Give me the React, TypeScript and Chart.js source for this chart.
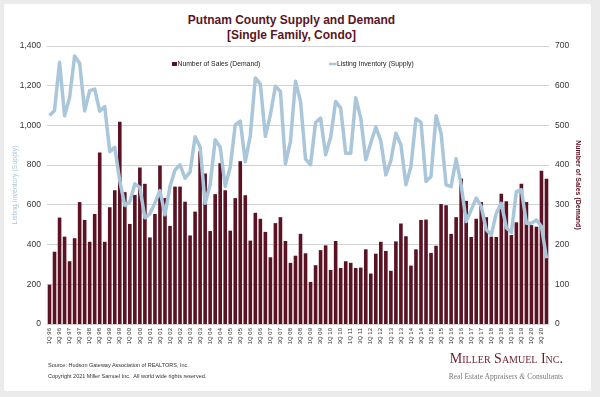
import React, { useEffect, useRef } from 'react';
import { Chart, registerables } from 'chart.js';

Chart.register(...registerables);

const YEARS = ['96', '97', '98', '99', '00', '01', '02', '03', '04', '05', '06', '07', '08', '09', '10', '11', '12', '13', '14', '15', '16', '17', '18', '19', '20'];
const QUARTERS = ['1Q', '2Q', '3Q', '4Q'];
const CATEGORIES = YEARS.flatMap((y) => QUARTERS.map((q) => `${q} ${y}`));

// Number of Sales (Demand) - right axis
const SALES = [
  99, 182, 268, 220, 158, 216, 307, 262, 207, 277,
  432, 207, 294, 337, 509, 332, 252, 325, 394, 353,
  218, 277, 399, 317, 247, 346, 346, 308, 223, 283,
  435, 379, 234, 327, 405, 337, 235, 317, 410, 324,
  210, 280, 265, 232, 168, 254, 269, 209, 154, 172,
  227, 178, 106, 148, 186, 198, 136, 209, 141, 158,
  154, 141, 142, 188, 127, 177, 207, 184, 134, 208,
  253, 221, 147, 188, 262, 263, 179, 197, 302, 299,
  227, 269, 366, 310, 219, 265, 307, 269, 220, 219,
  328, 309, 224, 256, 353, 307, 249, 245, 386, 366,
];

// Listing Inventory (Supply) - left axis
const INVENTORY = [
  1050, 1075, 1318, 1049, 1140, 1350, 1313, 1074, 1175, 1183,
  1072, 1095, 868, 890, 720, 597, 615, 706, 688, 535,
  555, 610, 672, 550, 692, 776, 802, 734, 766, 943,
  892, 608, 701, 928, 890, 693, 790, 1003, 1022, 818,
  948, 1239, 1208, 945, 1054, 1197, 1171, 806, 920, 1222,
  1121, 830, 802, 1015, 1037, 852, 940, 1121, 1087, 860,
  860, 1140, 1037, 827, 911, 992, 922, 751, 823, 961,
  903, 701, 793, 1034, 1015, 718, 743, 1049, 961, 701,
  692, 832, 700, 516, 575, 634, 592, 474, 449, 558,
  608, 485, 461, 667, 676, 508, 508, 524, 491, 331,
];

const SALES_LABEL = 'Number of Sales (Demand)';
const INVENTORY_LABEL = 'Listing Inventory (Supply)';

const MAROON = '#5b1223';
const BLUE = '#a9c6da';
const SANS = '"Liberation Sans", Arial, sans-serif';
const SERIF = '"Liberation Serif", "Times New Roman", serif';

const insideLegend = {
  id: 'insideLegend',
  afterDraw(chart: any) {
    const { ctx, chartArea } = chart;
    const y = chartArea.top + 18;
    ctx.save();
    ctx.font = `6.8px ${SANS}`;
    ctx.textBaseline = 'middle';
    // item 1
    const x1 = chartArea.left + 125;
    ctx.fillStyle = MAROON;
    ctx.fillRect(x1, y - 2, 5, 4);
    ctx.fillStyle = '#222';
    ctx.fillText(SALES_LABEL, x1 + 5.5, y + 0.5);
    // item 2
    const x2 = chartArea.left + 282;
    ctx.strokeStyle = BLUE;
    ctx.lineWidth = 2.5;
    ctx.beginPath();
    ctx.moveTo(x2, y);
    ctx.lineTo(x2 + 7.5, y);
    ctx.stroke();
    ctx.fillText(INVENTORY_LABEL, x2 + 8, y + 0.5);
    ctx.restore();
  },
};

export default function App() {
  const ref = useRef<HTMLCanvasElement | null>(null);

  useEffect(() => {
    if (!ref.current) return;
    const chart = new Chart(ref.current, {
      type: 'bar',
      data: {
        labels: CATEGORIES,
        datasets: [
          {
            type: 'line',
            label: INVENTORY_LABEL,
            data: INVENTORY,
            yAxisID: 'y',
            borderColor: BLUE,
            borderWidth: 3.5,
            pointRadius: 0,
            tension: 0,
            borderJoinStyle: 'round',
            order: 1,
          } as any,
          {
            type: 'bar',
            label: SALES_LABEL,
            data: SALES,
            yAxisID: 'y1',
            backgroundColor: MAROON,
            barPercentage: 0.72,
            categoryPercentage: 1,
            order: 2,
          } as any,
        ],
      },
      options: {
        responsive: false,
        animation: false,
        layout: { padding: { left: 10, right: 18, top: 46, bottom: 0 } },
        plugins: {
          legend: { display: false },
          tooltip: { enabled: false },
          title: { display: false },
        },
        scales: {
          x: {
            grid: { display: false, drawTicks: false },
            border: { display: false },
            ticks: {
              autoSkip: false,
              minRotation: 90,
              maxRotation: 90,
              padding: 4,
              color: '#333',
              font: { size: 6, family: SANS },
              callback: (_v: any, i: number) => (i % 2 === 0 ? CATEGORIES[i] : ''),
            },
            afterFit: (s: any) => {
              s.height = 73;
            },
          },
          y: {
            position: 'left',
            min: 0,
            max: 1400,
            grid: { color: '#d3d3d3', drawTicks: false, lineWidth: 1 },
            border: { display: false },
            ticks: { stepSize: 200, padding: 6, color: '#333', font: { size: 8.5, family: SANS } },
            title: {
              display: true,
              text: INVENTORY_LABEL,
              color: BLUE,
              font: { size: 7, family: SANS },
              padding: { top: 1, bottom: 0 },
            },
            afterFit: (s: any) => {
              s.width = 37;
            },
          },
          y1: {
            position: 'right',
            min: 0,
            max: 700,
            grid: { display: false, drawTicks: false },
            border: { display: false },
            ticks: { stepSize: 100, padding: 6, color: '#333', font: { size: 8.5, family: SANS } },
            title: {
              display: true,
              text: SALES_LABEL,
              color: MAROON,
              font: { size: 7, family: SANS, weight: 'bold' },
              padding: { top: 0, bottom: 0 },
            },
            afterFit: (s: any) => {
              s.width = 33;
            },
          },
        },
      } as any,
      plugins: [insideLegend],
    });
    return () => chart.destroy();
  }, []);

  return (
    <div style={{ position: 'absolute', left: 0, top: 0, width: 600, height: 397, background: '#ebebeb', overflow: 'hidden' }}>
      <div style={{ position: 'absolute', left: 4, top: 4, width: 587, height: 387, background: '#fff', borderRadius: 2 }} />
      <div
        style={{
          position: 'absolute',
          left: 0,
          top: 13,
          width: 583,
          textAlign: 'center',
          fontFamily: SANS,
          fontWeight: 'bold',
          fontSize: 12,
          lineHeight: '14.5px',
          color: '#5a1525',
        }}
      >
        <div>Putnam County Supply and Demand</div>
        <div>[Single Family, Condo]</div>
      </div>
      <canvas ref={ref} width={600} height={397} style={{ position: 'absolute', left: 0, top: 0, display: 'block' }} />
      <div style={{ position: 'absolute', left: 48, top: 362, fontFamily: SANS, fontSize: 5.5, lineHeight: '6px', color: '#333', whiteSpace: 'pre' }}>
        Source: Hudson Gateway Association of REALTORS, Inc.
      </div>
      <div style={{ position: 'absolute', left: 48, top: 373, fontFamily: SANS, fontSize: 5.5, lineHeight: '6px', color: '#333', whiteSpace: 'pre' }}>
        {'Copyright 2021 Miller Samuel Inc.  All world wide rights reserved.'}
      </div>
      <div
        style={{
          position: 'absolute',
          right: 37,
          top: 351,
          fontFamily: SERIF,
          fontVariant: 'small-caps',
          fontSize: 14,
          lineHeight: '16px',
          color: '#6b1f2e',
          whiteSpace: 'nowrap',
        }}
      >
        Miller Samuel Inc.
      </div>
      <div
        style={{
          position: 'absolute',
          right: 37,
          top: 372,
          fontFamily: SERIF,
          fontSize: 7.6,
          lineHeight: '9px',
          color: '#7a7a7a',
          whiteSpace: 'nowrap',
        }}
      >
        Real Estate Appraisers <i>&amp;</i> Consultants
      </div>
    </div>
  );
}
